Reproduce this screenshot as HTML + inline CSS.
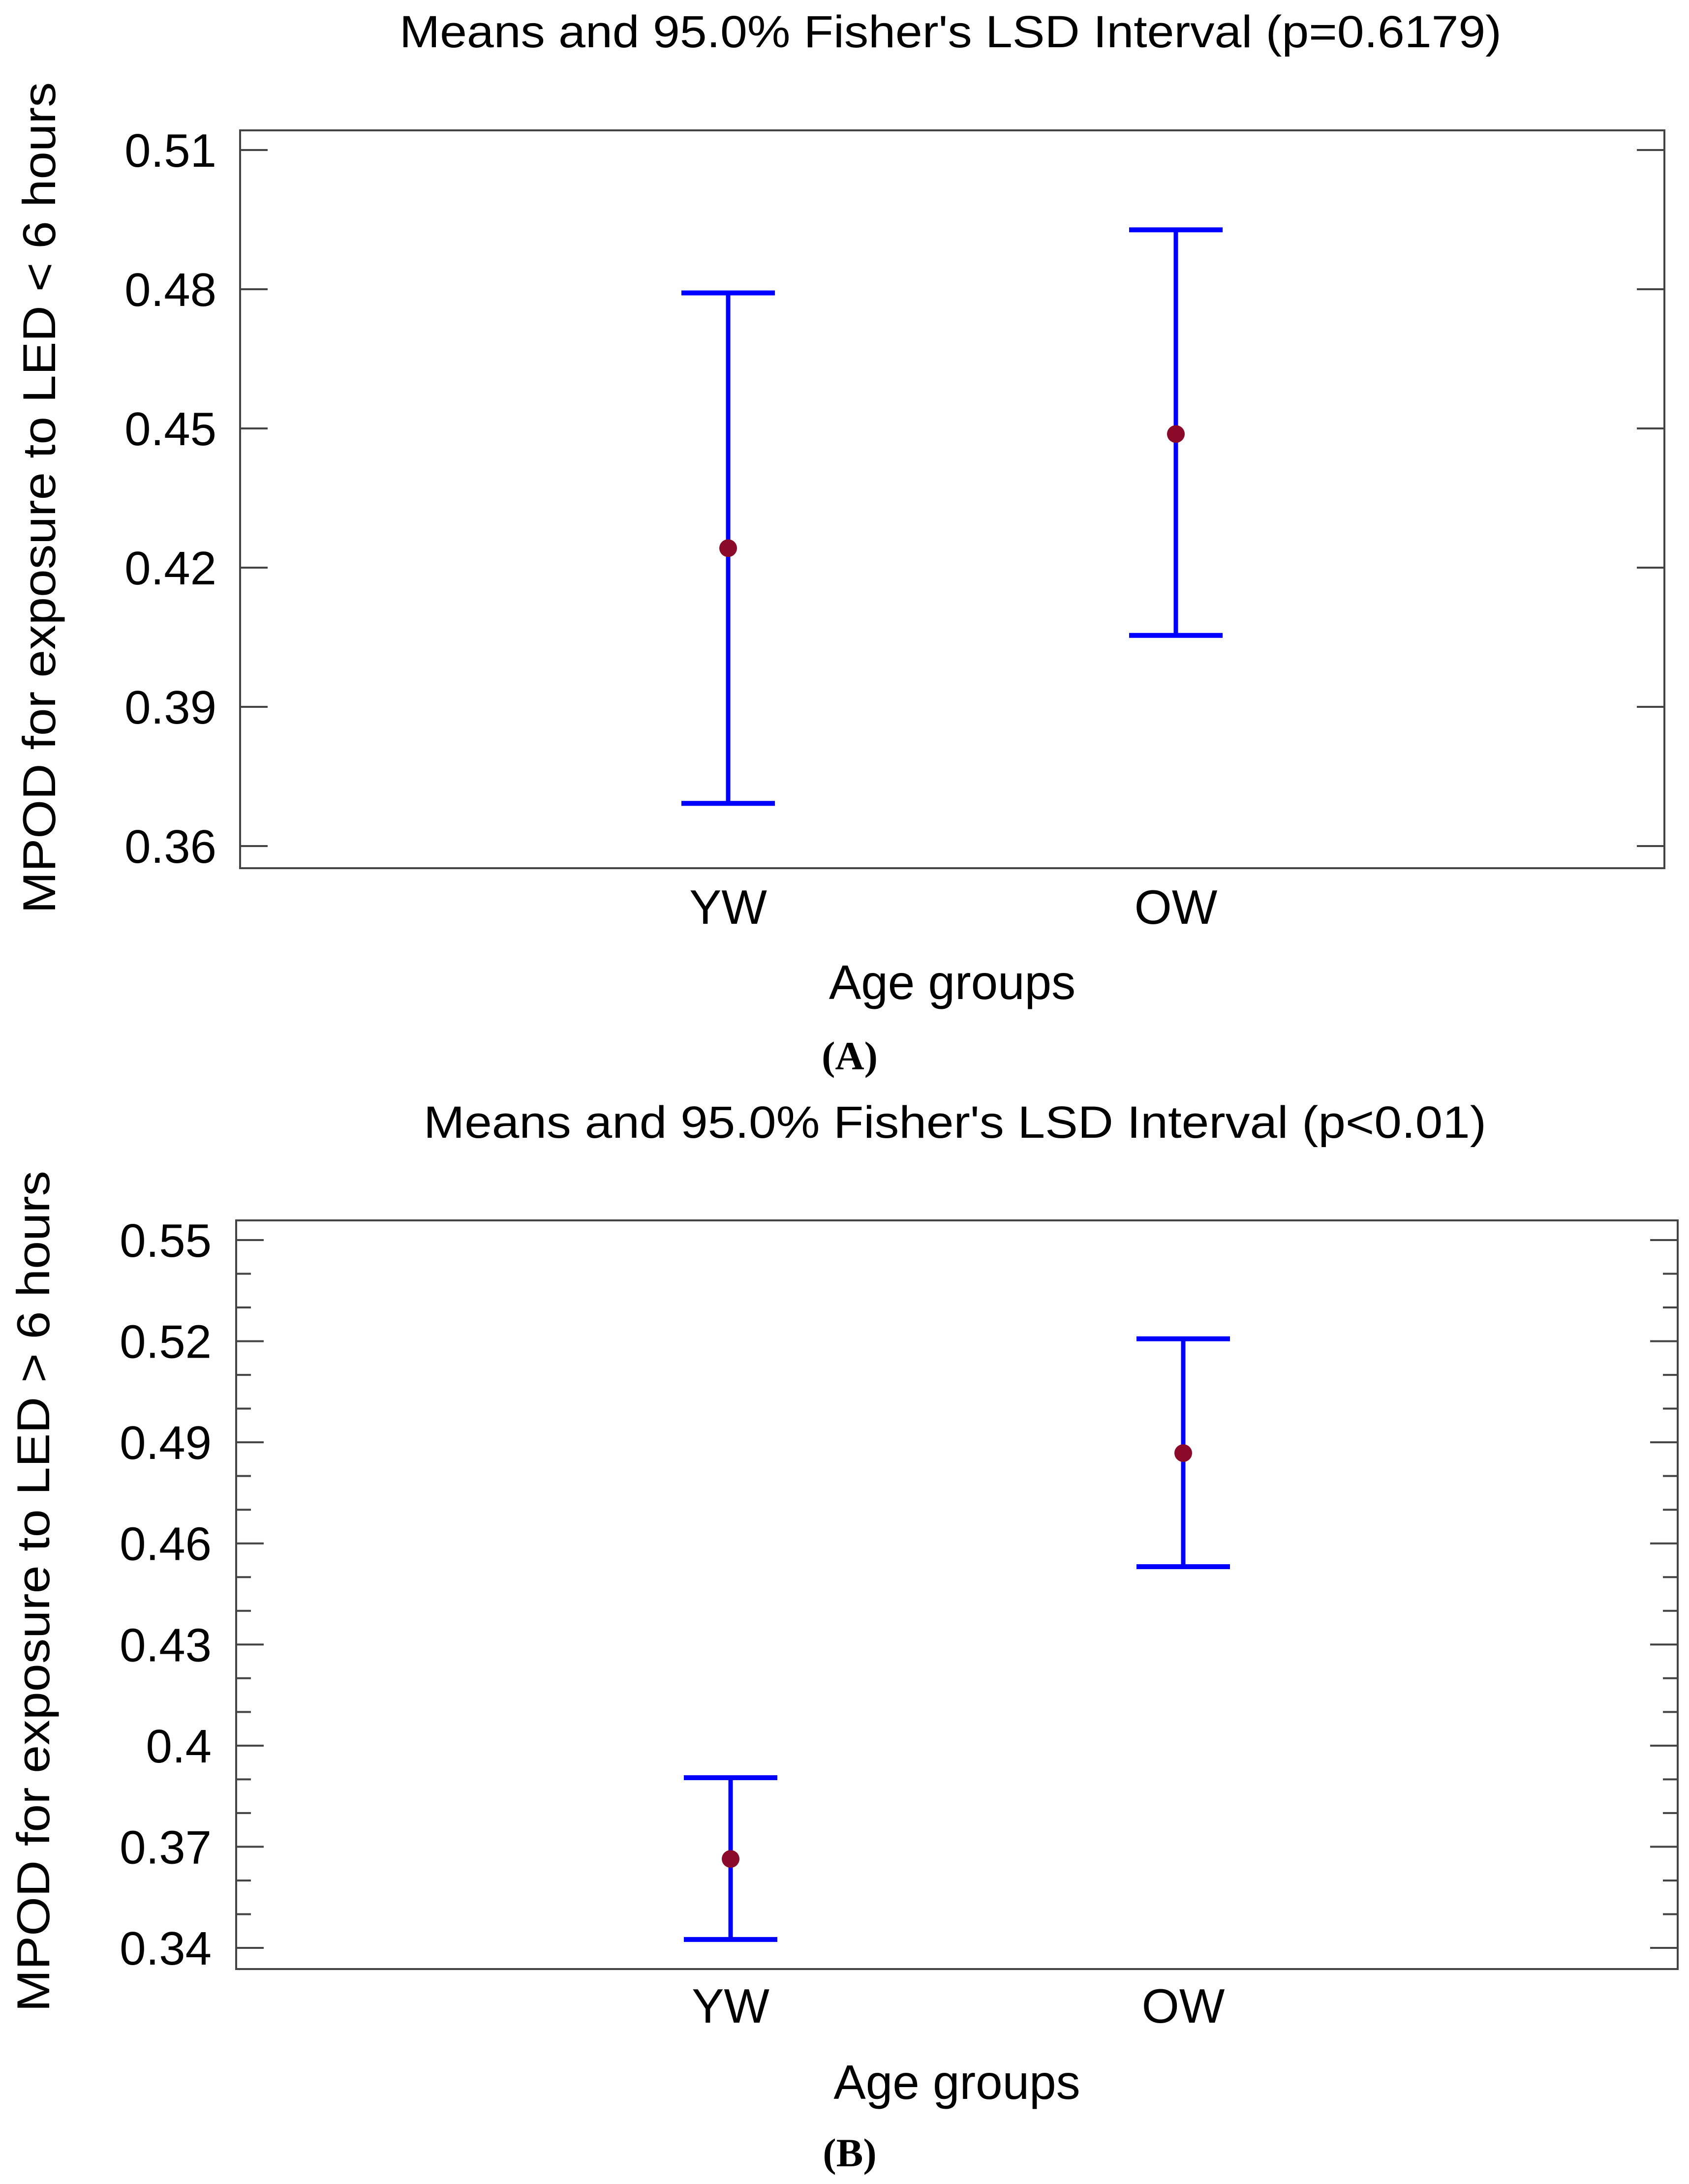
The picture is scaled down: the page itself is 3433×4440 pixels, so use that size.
<!DOCTYPE html>
<html><head><meta charset="utf-8"><style>
html,body{margin:0;padding:0;background:#fff}
svg{display:block}
text{font-family:"Liberation Sans",sans-serif;fill:#000}
</style></head><body>
<svg id="fig" width="3433" height="4440" viewBox="0 0 3433 4440" xmlns="http://www.w3.org/2000/svg">
<g id="chartA"></g>
<g id="chartB"></g>
</svg>
<script>
const categories = ["YW", "OW"];
const aMeans = [0.4242, 0.4488];
const aLower = [0.3692, 0.4054];
const aUpper = [0.4792, 0.4928];
const aTicks = [0.36, 0.39, 0.42, 0.45, 0.48, 0.51];
const aTickLabels = ["0.36", "0.39", "0.42", "0.45", "0.48", "0.51"];
const bMeans = [0.3664, 0.4868];
const bLower = [0.3425, 0.4531];
const bUpper = [0.3905, 0.5207];
const bTicks = [0.34, 0.37, 0.40, 0.43, 0.46, 0.49, 0.52, 0.55];
const bTickLabels = ["0.34", "0.37", "0.4", "0.43", "0.46", "0.49", "0.52", "0.55"];
const bMinorTicks = [0.35, 0.36, 0.38, 0.39, 0.41, 0.42, 0.44, 0.45, 0.47, 0.48, 0.50, 0.51, 0.53, 0.54];

const NS = "http://www.w3.org/2000/svg";
function mk(parent, tag, attrs, txt) {
  const e = document.createElementNS(NS, tag);
  for (const k in attrs) e.setAttribute(k, attrs[k]);
  if (txt !== undefined) e.textContent = txt;
  parent.appendChild(e);
  return e;
}

function drawChart(g, cfg) {
  const {left, right, top, bottom, vTop, yTop, vBot, yBot, cx0, cx1} = cfg;
  const y = v => yTop + (vTop - v) / (vTop - vBot) * (yBot - yTop);
  const x = i => cx0 + i * (cx1 - cx0);

  const title = mk(g, "text", {x: cfg.titleX, y: cfg.titleY, "font-size": 92, "text-anchor": "middle", textLength: cfg.titleLen, lengthAdjust: "spacingAndGlyphs"}, cfg.title);
  
  

  const box = mk(g, "rect", {x: left, y: top, width: right - left, height: bottom - top, fill: "none", stroke: "#444", "stroke-width": 4});
  
  

  cfg.ticks.forEach((t, i) => {
    const yy = y(t);
    const tl = mk(g, "line", {x1: left, x2: left + 56, y1: yy, y2: yy, stroke: "#444", "stroke-width": 4});
    
    
    const tr = mk(g, "line", {x1: right - 56, x2: right, y1: yy, y2: yy, stroke: "#444", "stroke-width": 4});
    
    
    const lab = mk(g, "text", {x: cfg.labelX, y: yy + 34, "font-size": 96, "text-anchor": "end"}, cfg.tickLabels[i]);
    
    
  });
  (cfg.minor || []).forEach(t => {
    const yy = y(t);
    const ml = mk(g, "line", {x1: left, x2: left + 30, y1: yy, y2: yy, stroke: "#444", "stroke-width": 4});
    
    
    const mr = mk(g, "line", {x1: right - 30, x2: right, y1: yy, y2: yy, stroke: "#444", "stroke-width": 4});
    
    
  });

  categories.forEach((c, i) => {
    const xx = x(i);
    const grp = mk(g, "g", {});
    
    
    const stem = mk(grp, "line", {x1: xx, x2: xx, y1: y(cfg.upper[i]), y2: y(cfg.lower[i]), stroke: "#0000ff", "stroke-width": 9});
    
    
    const capT = mk(grp, "line", {x1: xx - 95, x2: xx + 95, y1: y(cfg.upper[i]), y2: y(cfg.upper[i]), stroke: "#0000ff", "stroke-width": 10});
    
    
    const capB = mk(grp, "line", {x1: xx - 95, x2: xx + 95, y1: y(cfg.lower[i]), y2: y(cfg.lower[i]), stroke: "#0000ff", "stroke-width": 10});
    
    
    const dot = mk(grp, "circle", {cx: xx, cy: y(cfg.means[i]), r: 18, fill: "#8b0a2a"});
    
    
    const cl = mk(g, "text", {x: xx, y: cfg.catY, "font-size": 98, "text-anchor": "middle"}, c);
    
    
  });

  const xt = mk(g, "text", {x: (left + right) / 2, y: cfg.xTitleY, "font-size": 98, "text-anchor": "middle"}, "Age groups");
  
  

  const yt = mk(g, "text", {x: 0, y: 0, "font-size": 94, "text-anchor": "middle", transform: "translate(" + cfg.yTitleX + "," + cfg.yTitleY + ") rotate(-90)", textLength: cfg.yTitleLen, lengthAdjust: "spacingAndGlyphs"}, cfg.yTitle);
  
  

  const pl = mk(g, "text", {x: 1727, y: cfg.panelY, "font-size": 82, "font-weight": "bold", "text-anchor": "middle", style: "font-family:'Liberation Serif',serif"}, cfg.panel);
  
  
}

drawChart(document.getElementById("chartA"), {
  left: 488, right: 3383, top: 265, bottom: 1765,
  vTop: 0.51, yTop: 305, vBot: 0.36, yBot: 1720,
  cx0: 1480, cx1: 2390,
  ticks: aTicks, tickLabels: aTickLabels,
  means: aMeans, lower: aLower, upper: aUpper,
  title: "Means and 95.0% Fisher's LSD Interval (p=0.6179)", titleX: 1932, titleY: 96, titleLen: 2240,
  labelX: 440, catY: 1878, xTitleY: 2031,
  yTitle: "MPOD for exposure to LED < 6  hours", yTitleX: 112, yTitleY: 1012, yTitleLen: 1690,
  panel: "(A)", panelY: 2174
});

drawChart(document.getElementById("chartB"), {
  left: 480, right: 3410, top: 2481, bottom: 4003,
  vTop: 0.55, yTop: 2521, vBot: 0.34, yBot: 3960,
  cx0: 1485, cx1: 2405,
  ticks: bTicks, tickLabels: bTickLabels, minor: bMinorTicks,
  means: bMeans, lower: bLower, upper: bUpper,
  title: "Means and 95.0% Fisher's LSD Interval (p<0.01)", titleX: 1941, titleY: 2313, titleLen: 2160,
  labelX: 430, catY: 4112, xTitleY: 4267,
  yTitle: "MPOD for exposure to LED > 6  hours", yTitleX: 100, yTitleY: 3235, yTitleLen: 1710,
  panel: "(B)", panelY: 4404
});
</script>
</body></html>
